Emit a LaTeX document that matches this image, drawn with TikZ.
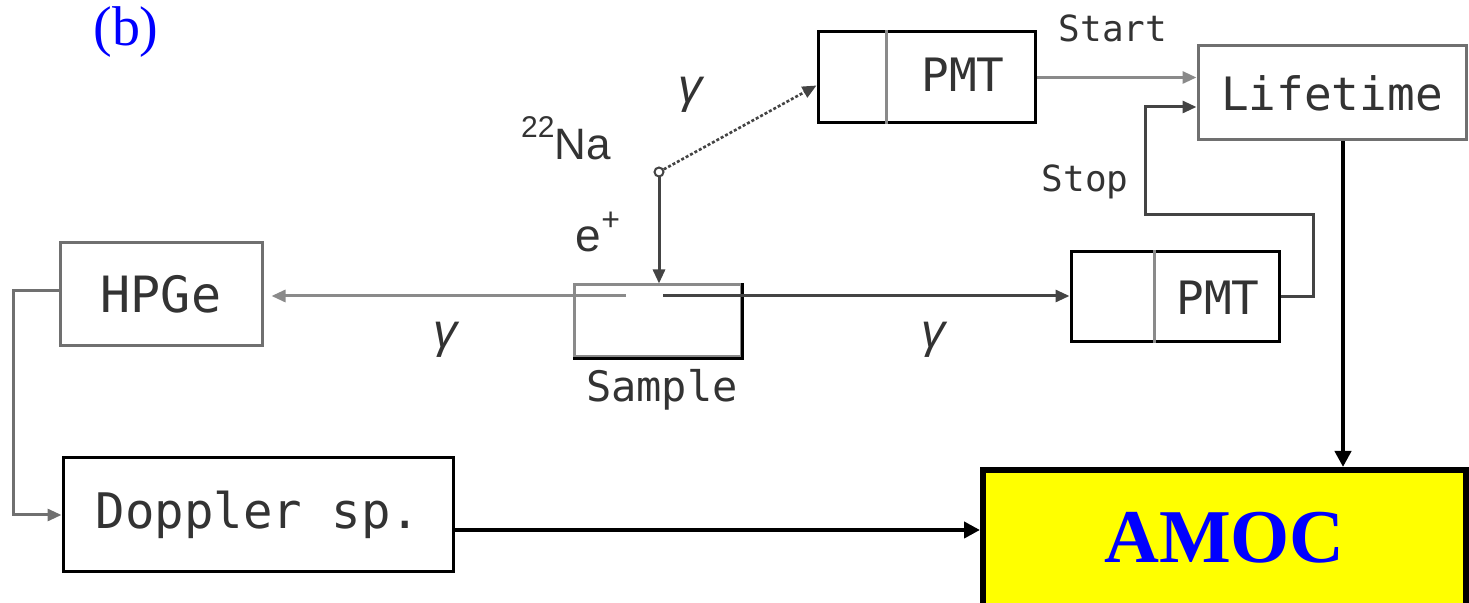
\documentclass[tikz,border=0pt]{standalone}
\usepackage{fontspec}
\setmainfont{Liberation Serif}
\newfontfamily\monof{DejaVu Sans Mono}
\newfontfamily\arialf{Liberation Sans}
\usetikzlibrary{arrows.meta,calc}
\definecolor{txt}{HTML}{333333}
\definecolor{lgray}{HTML}{707070}
\definecolor{mgray}{HTML}{8A8A8A}
\definecolor{dgray}{HTML}{444444}
\definecolor{amocyellow}{HTML}{FFFF00}
\begin{document}
\begin{tikzpicture}[x=0.5pt,y=-0.5pt,
  box/.style={draw=#1, line width=1.5pt, inner sep=0pt, fill=white},
  mono/.style={font=\monof\fontsize{#1}{#1}\selectfont, text=txt},
  sans/.style={font=\arialf\fontsize{#1}{#1}\selectfont, text=txt},
  gam/.style={font=\arialf\itshape\fontsize{#1}{#1}\selectfont, text=txt},
  thin/.style={line width=1.5pt, -{Triangle[length=7pt,width=6pt]}},
  thick/.style={line width=2pt, -{Triangle[length=8pt,width=8pt]}}
]
\useasboundingbox (0,0) rectangle (1469,603);

% label (b)
\node[text=blue, font=\fontsize{28}{28}\selectfont, inner sep=0] (lab) at (126,32) {(b)};

% top PMT
\node[box=black, minimum width=108.5pt, minimum height=45.5pt] (pmtT) at (926.5,77.5) {};
\draw[line width=1.5pt, color=mgray] ($(pmtT.north west)+(70,0)$) -- ($(pmtT.south west)+(70,0)$);
\node[mono=23] (pmtTt) at (963,75) {PMT};

% Lifetime
\node[box=lgray, minimum width=134pt, minimum height=47pt, mono=23] (life) at (1332,93) {Lifetime};

% bottom PMT
\node[box=black, minimum width=104pt, minimum height=45pt] (pmtB) at (1175,297) {};
\draw[line width=1.5pt, color=mgray] ($(pmtB.north west)+(85,0)$) -- ($(pmtB.south west)+(85,0)$);
\node[mono=23] (pmtBt) at (1218,298) {PMT};

% HPGe
\node[box=lgray, minimum width=101pt, minimum height=51.5pt, mono=25] (hpge) at (161,294.5) {HPGe};

% Doppler
\node[box=black, minimum width=195pt, minimum height=57pt, mono=24.5] (dop) at (258,515) {Doppler sp.};

% AMOC
\node[draw=black, line width=3pt, fill=amocyellow, minimum width=241.5pt, minimum height=68pt, inner sep=0,
      text=blue, font=\bfseries\fontsize{38}{38}\selectfont] (amoc) at (1224.5,538) {AMOC};

% Sample
\node[box=mgray, minimum width=83.5pt, minimum height=36pt] (sample) at (657.5,321) {};
\draw[line width=1.5pt, black] (sample.north east) -- (sample.south east) -- (sample.south west);
\node[mono=21] (samplet) at (662,390) {Sample};

% source
\node[circle, draw=dgray, line width=1pt, minimum size=4.5pt, inner sep=0pt, fill=white] (src) at (659,172) {};
\node[sans=22, inner sep=0] (na) at (566,138) {\raisebox{0.5em}{\fontsize{15}{15}\selectfont 22}Na};
\node[sans=23, inner sep=0] (ep) at (598,232) {e\raisebox{0.45em}{\fontsize{16}{16}\selectfont +}};

% gamma labels
\node[gam=24] (g1) at (690,95) {γ};
\node[gam=24] (g2) at (445,340) {γ};
\node[gam=24] (g3) at (933,340) {γ};

% small labels
\node[mono=18] (start) at (1113,28) {Start};
\node[mono=18] (stop) at (1085,182) {Stop};

% connectors
\draw[thin, dgray, densely dotted, line width=1.3pt] (src) -- ([yshift=-4pt]pmtT.west);
\draw[thin, dgray] (src) -- (src |- sample.north);

\coordinate (gL) at (626,296);
\coordinate (gR) at (663,296);
\draw[thin, mgray, shorten >=4pt] (gL) -- (gL -| hpge.east);
\draw[thin, dgray] (gR) -- (gR -| pmtB.west);

\draw[thin, mgray] (pmtT.east) -- (pmtT.east -| life.west);
\coordinate (stopc) at (1145,215);
\draw[thin, dgray] (pmtB.east) -| ++(33,-82) -- (stopc) |- ([yshift=-7pt]life.west);

\draw[thin, lgray] ([yshift=2pt]hpge.west) -- ++(-45,0) |- (dop.west);

\draw[thick, black] ([yshift=-7.5pt]dop.east) -- ([yshift=-7.5pt]dop.east -| amoc.west);
\draw[thick, black] ([xshift=5.5pt]life.south) -- ([xshift=5.5pt]life.south |- amoc.north);
\end{tikzpicture}
\end{document}
